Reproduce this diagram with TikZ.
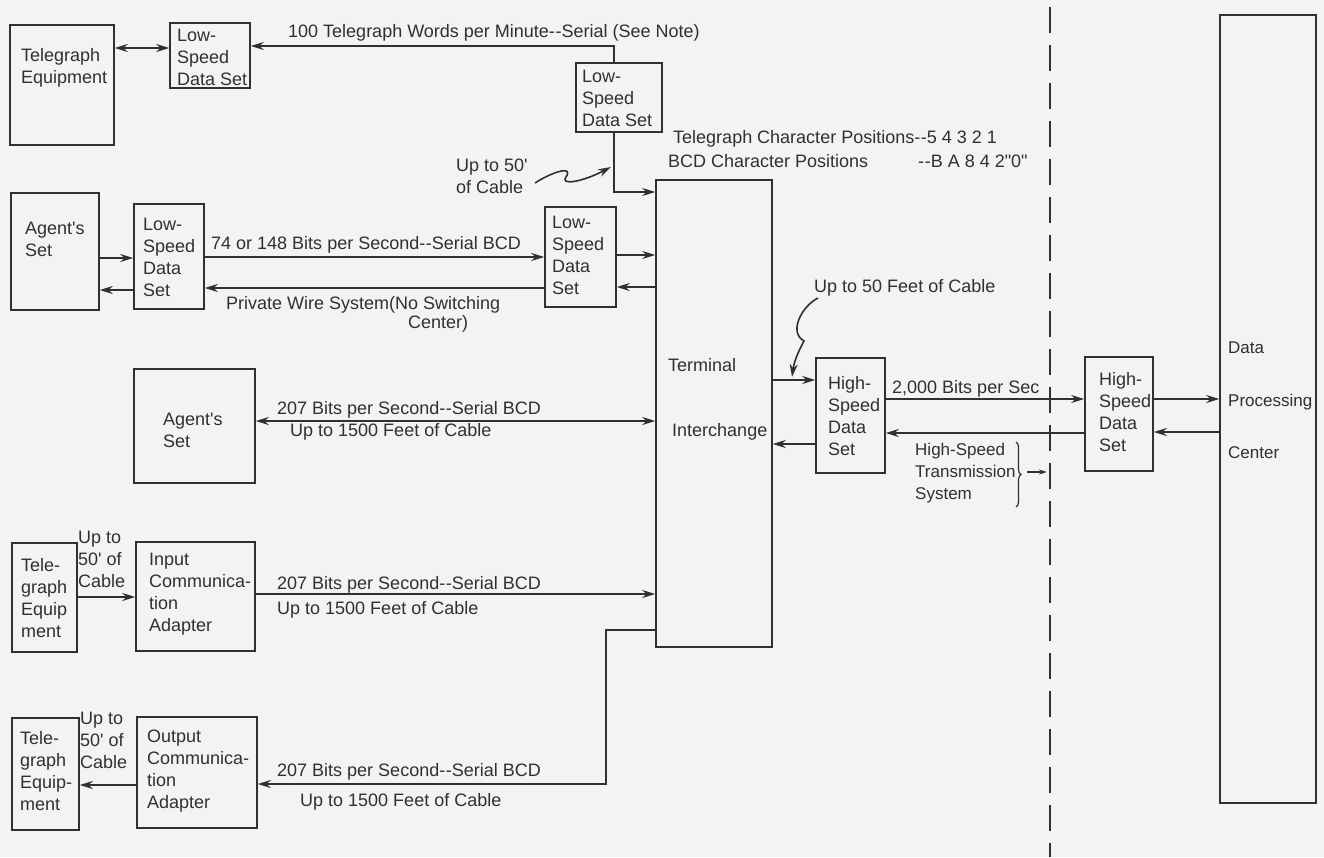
\documentclass[tikz,border=0pt]{standalone}
\usepackage{fontspec}
\setmainfont{Liberation Sans}
\usetikzlibrary{arrows.meta,fit,decorations.pathreplacing}
\definecolor{bg}{RGB}{243,243,241}
\definecolor{ink}{RGB}{48,48,48}
\newcommand{\myhh}{-\kern0.6pt-}
\newcommand{\myq}{\textquotesingle}
\begin{document}
\begin{tikzpicture}[x=1pt,y=-1pt,
  box/.style={draw=ink, line width=1.6pt, inner sep=0pt},
  lbl/.style={font=\fontsize{18}{22}\selectfont, text=ink, inner sep=0pt, align=left, anchor=west},
  slbl/.style={lbl, font=\fontsize{17}{22}\selectfont},
  conn/.style={draw=ink, line width=1.6pt},
  arr/.style={conn, -{Stealth[length=13pt,width=8pt]}},
  darr/.style={conn, {Stealth[length=13pt,width=8pt]}-{Stealth[length=13pt,width=8pt]}}]
\path[fill=bg] (0,0) rectangle (1324,857);
\useasboundingbox (0,0) rectangle (1324,857);

% boxes
\node[box, fit={(10,25)(114,145)}] (te1) {};
\node[box, fit={(170,23)(250,88)}] (lsds1) {};
\node[box, fit={(576,63)(662,132)}] (lsds2) {};
\node[box, fit={(656,180)(772,647)}] (term) {};
\node[box, fit={(11,193)(99,310)}] (ag1) {};
\node[box, fit={(134,204)(204,309)}] (lsds3) {};
\node[box, fit={(545,207)(616,307)}] (lsds4) {};
\node[box, fit={(816,358)(885,473)}] (hsds1) {};
\node[box, fit={(1085,357)(1153,471)}] (hsds2) {};
\node[box, fit={(1220,15)(1316,803)}] (dpc) {};
\node[box, fit={(134,369)(255,483)}] (ag2) {};
\node[box, fit={(12,543)(77,652)}] (te2) {};
\node[box, fit={(136,542)(255,651)}] (ica) {};
\node[box, fit={(12,718)(79,830)}] (te3) {};
\node[box, fit={(137,717)(257,828)}] (oca) {};

% box labels
\node[lbl] (te1t) at (21,68) {Telegraph\\Equipment};
\node[lbl] (lsds1t) at (177,57) {Low-\\Speed\\Data Set};
\node[lbl] (lsds2t) at (582,98) {Low-\\Speed\\Data Set};
\node[lbl] (ag1t) at (25,239) {Agent\myq s\\Set};
\node[lbl] (lsds3t) at (143,257) {Low-\\Speed\\Data\\Set};
\node[lbl] (lsds4t) at (552,255) {Low-\\Speed\\Data\\Set};
\node[lbl] (termt1) at (668,365) {Terminal};
\node[lbl] (termt2) at (672,432) {Interchange};
\node[lbl] (hsds1t) at (828,416) {High-\\Speed\\Data\\Set};
\node[lbl] (hsds2t) at (1099,412) {High-\\Speed\\Data\\Set};
\node[slbl] (dpct1) at (1228,348) {Data};
\node[slbl] (dpct2) at (1228,402) {Processing};
\node[slbl] (dpct3) at (1228,453) {Center};
\node[lbl] (ag2t) at (163,430) {Agent\myq s\\Set};
\node[lbl] (te2t) at (21,598) {Tele-\\graph\\Equip\\ment};
\node[lbl] (icat) at (149,594) {Input\\Communica-\\tion\\Adapter};
\node[lbl] (te3t) at (20,771) {Tele-\\graph\\Equip-\\ment};
\node[lbl] (ocat) at (147,771) {Output\\Communica-\\tion\\Adapter};

% free labels
\node[lbl] (l100) at (288,33) {100 Telegraph Words per Minute\myhh Serial (See Note)};
\node[lbl] (ltcp) at (673,139) {Telegraph Character Positions\myhh 5 4 3 2 1};
\node[lbl] (lbcd) at (668,161) {BCD Character Positions};
\node[lbl] (lbcd2) at (918,161) {\myhh B A 8 4 2\textquotedbl 0\textquotedbl};
\node[lbl] (cab1) at (456,176) {Up to 50\myq\\of Cable};
\node[lbl] (l74) at (211,245) {74 or 148 Bits per Second\myhh Serial BCD};
\node[lbl] (lpw) at (226,305) {Private Wire System(No Switching};
\node[lbl] (lpw2) at (408,324) {Center)};
\node[lbl] (cab2) at (814,288) {Up to 50 Feet of Cable};
\node[lbl] (l2000) at (892,389) {2,000 Bits per Sec};
\node[slbl] (lhst) at (915,473) {High-Speed\\Transmission\\System};
\node[lbl] (l207a) at (277,410) {207 Bits per Second\myhh Serial BCD};
\node[lbl] (l15a) at (290,432) {Up to 1500 Feet of Cable};
\node[lbl] (cab3) at (78,559) {Up to\\50\myq\ of\\Cable};
\node[lbl] (l207b) at (277,585) {207 Bits per Second\myhh Serial BCD};
\node[lbl] (l15b) at (277,610) {Up to 1500 Feet of Cable};
\node[lbl] (cab4) at (80,740) {Up to\\50\myq\ of\\Cable};
\node[lbl] (l207c) at (277,772) {207 Bits per Second\myhh Serial BCD};
\node[lbl] (l15c) at (300,802) {Up to 1500 Feet of Cable};

% connectors
\draw[darr] (te1.east |- 0,48) -- (lsds1.west |- 0,48);
\draw[arr] (614,0 |- lsds2.north) -- (614,46) -- (lsds1.east |- 0,46);
\draw[arr] (614,0 |- lsds2.south) |- (term.west |- 0,192);
\draw[arr] (535,183) .. controls (552,172) and (574,165) .. (566,177) .. controls (560,185) and (580,183) .. (611,167);

\draw[arr] (ag1.east |- 0,258) -- (lsds3.west |- 0,258);
\draw[arr] (lsds3.west |- 0,290) -- (ag1.east |- 0,290);
\draw[arr] (lsds3.east |- 0,257) -- (lsds4.west |- 0,257);
\draw[arr] (lsds4.west |- 0,288) -- (lsds3.east |- 0,288);
\draw[arr] (lsds4.east |- 0,255) -- (term.west |- 0,255);
\draw[arr] (term.west |- 0,287) -- (lsds4.east |- 0,287);

\draw[darr] (ag2.east |- 0,421) -- (term.west |- 0,421);
\draw[arr] (te2.east |- 0,597) -- (ica.west |- 0,597);
\draw[arr] (ica.east |- 0,594) -- (term.west |- 0,594);
\draw[arr] (oca.west |- 0,785) -- (te3.east |- 0,785);
\draw[arr] (term.west |- 0,630) -- (606,630) -- (606,784) -- (oca.east |- 0,784);

\draw[arr] (term.east |- 0,380) -- (hsds1.west |- 0,380);
\draw[arr] (hsds1.west |- 0,444) -- (term.east |- 0,444);
\draw[arr] (hsds1.east |- 0,399) -- (hsds2.west |- 0,399);
\draw[arr] (hsds2.west |- 0,433) -- (hsds1.east |- 0,433);
\draw[arr] (hsds2.east |- 0,399) -- (dpc.west |- 0,399);
\draw[arr] (dpc.west |- 0,432) -- (hsds2.east |- 0,432);
\draw[arr] (818,298) .. controls (802,306) and (788,332) .. (804,341) .. controls (798,352) and (794,362) .. (792,377);

% brace, dashed boundary
\draw[conn, line width=1.2pt, decorate, decoration={brace, amplitude=5pt}] (1016,442) -- (1016,507);
\draw[conn, line width=1.2pt, -{Stealth[length=8pt,width=5pt]}] (1027,472) -- (1047,472);
\draw[ink, line width=1.8pt, dash pattern=on 26pt off 12pt] (1050,7) -- (1050,857);
\end{tikzpicture}
\end{document}
